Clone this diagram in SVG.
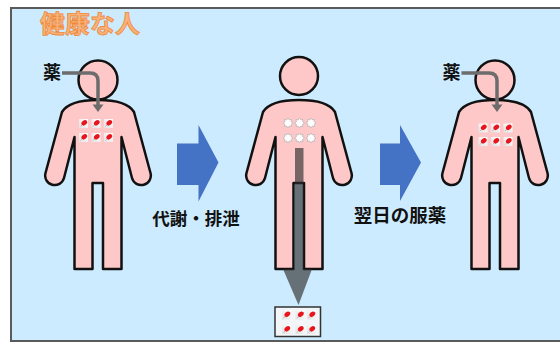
<svg xmlns="http://www.w3.org/2000/svg" width="560" height="342" viewBox="0 0 560 342">
  <defs>
    <style>
      .frame { fill: #CCEBFF; stroke: #5a5a5a; stroke-width: 2; }
      .skin { fill: #FFC8C8; stroke: #111; stroke-width: 2.5; stroke-linejoin: round; }
      .step { fill: #4472C4; }
      .lbl { font-family: "Noto Sans CJK JP", "Noto Sans CJK SC", sans-serif; font-weight: bold; fill: #111; }
      .title { font-family: "Noto Sans CJK JP", "Noto Sans CJK SC", sans-serif; font-weight: bold; font-size: 25px; fill: #FAB27A; stroke: #EE8A3C; stroke-width: 0.8; }
      .feed { fill: none; stroke: #6c6c6c; stroke-width: 3.5; }
      .feedhead { fill: #6c6c6c; }
      .out { fill: #2e2e2e; fill-opacity: 0.65; }
    </style>
    <!-- standing figure, centred on x = 0 -->
    <path id="body" d="M -23.5 269 L -23.5 137 L -34 178 A 9.5 9.5 0 0 1 -52.5 173 L -36 112 C -30 102 -15 100 0 100 C 15 100 30 102 36 112 L 52.5 173 A 9.5 9.5 0 0 1 34 178 L 23.5 137 L 23.5 269 L 5 269 L 5 183 L -5.5 183 L -5.5 269 Z"/>
    <!-- tablet icon, 9 x 9 -->
    <linearGradient id="tabBg" x1="0" y1="1" x2="1" y2="0">
      <stop offset="0" stop-color="#e2e2e2"/>
      <stop offset="1" stop-color="#ffffff"/>
    </linearGradient>
    <g id="tab">
      <rect x="0" y="0" width="9" height="9" fill="url(#tabBg)"/>
      <line x1="1.5" y1="7.5" x2="4" y2="5" stroke="#b8b8b8" stroke-width="1"/>
      <ellipse cx="5.3" cy="3.8" rx="3.2" ry="2.3" transform="rotate(-40 5.3 3.8)" fill="#E8141E"/>
    </g>
    <!-- dissolved tablet -->
    <polygon id="gone" points="0,-5 1.3,-3.1 3.5,-3.5 3.1,-1.3 5,0 3.1,1.3 3.5,3.5 1.3,3.1 0,5 -1.3,3.1 -3.5,3.5 -3.1,1.3 -5,0 -3.1,-1.3 -3.5,-3.5 -1.3,-3.1" fill="#ffffff" stroke="#b0b0b0" stroke-width="0.7"/>
  </defs>

  <rect x="0" y="0" width="560" height="342" fill="#ffffff"/>
  <rect class="frame" x="11" y="8" width="560" height="333"/>

  <text class="title" x="40" y="33">健康な人</text>

  <!-- person taking the medicine -->
  <g id="person-dose">
    <use href="#body" class="skin" transform="translate(98 0)"/>
    <circle class="skin" cx="98" cy="80" r="19.5"/>
    <use href="#tab" x="79" y="119"/>
    <use href="#tab" x="91.5" y="119"/>
    <use href="#tab" x="104" y="119"/>
    <use href="#tab" x="79" y="133"/>
    <use href="#tab" x="91.5" y="133"/>
    <use href="#tab" x="104" y="133"/>
  </g>

  <!-- person after metabolism -->
  <g id="person-cleared">
    <use href="#body" class="skin" transform="translate(299 0)"/>
    <circle class="skin" cx="299" cy="76" r="19"/>
    <use href="#gone" x="288" y="123"/>
    <use href="#gone" x="299.5" y="123"/>
    <use href="#gone" x="311" y="123"/>
    <use href="#gone" x="288" y="138"/>
    <use href="#gone" x="299.5" y="138"/>
    <use href="#gone" x="311" y="138"/>
  </g>

  <!-- person on the next day -->
  <g id="person-next">
    <use href="#body" class="skin" transform="translate(495 0)"/>
    <circle class="skin" cx="495" cy="80" r="19.5"/>
    <use href="#tab" x="478.5" y="123.5"/>
    <use href="#tab" x="491" y="123.5"/>
    <use href="#tab" x="503.5" y="123.5"/>
    <use href="#tab" x="478.5" y="137"/>
    <use href="#tab" x="491" y="137"/>
    <use href="#tab" x="503.5" y="137"/>
  </g>

  <!-- excreted tablets -->
  <g id="excreted">
    <rect x="275" y="307" width="45.5" height="29.5" fill="#f2f6f8" stroke="#333" stroke-width="1.5"/>
    <use href="#tab" x="282" y="310.5"/>
    <use href="#tab" x="295.5" y="310.5"/>
    <use href="#tab" x="307" y="310.5"/>
    <use href="#tab" x="282" y="325"/>
    <use href="#tab" x="295.5" y="325"/>
    <use href="#tab" x="307" y="325"/>
  </g>

  <g id="connectors">
    <!-- medicine intake -->
    <text class="lbl" x="43" y="79" font-size="18">薬</text>
    <path class="feed" d="M 62 73 H 90 Q 98 73 98 81 V 106"/>
    <polygon class="feedhead" points="92.5,104.5 103.5,104.5 98,112"/>

    <text class="lbl" x="442.5" y="79" font-size="18">薬</text>
    <path class="feed" d="M 461.5 73 H 489 Q 497 73 497 81 V 106"/>
    <polygon class="feedhead" points="491.5,104.5 502.5,104.5 497,112"/>

    <!-- excretion -->
    <polygon class="out" points="295,148 303.5,148 303.5,269 312,269 298.5,305 283,269 295,269"/>

    <!-- steps -->
    <polygon class="step" points="177,143.5 198.5,143.5 198.5,125 218.5,162.5 198.5,201.5 198.5,185 177,185"/>
    <text class="lbl" x="196" y="225" font-size="17.5" text-anchor="middle">代謝・排泄</text>

    <polygon class="step" points="380,143.5 400,143.5 400,125 421,162.5 400,201 400,185 380,185"/>
    <text class="lbl" x="400" y="222" font-size="18.5" text-anchor="middle">翌日の服薬</text>
  </g>
</svg>
